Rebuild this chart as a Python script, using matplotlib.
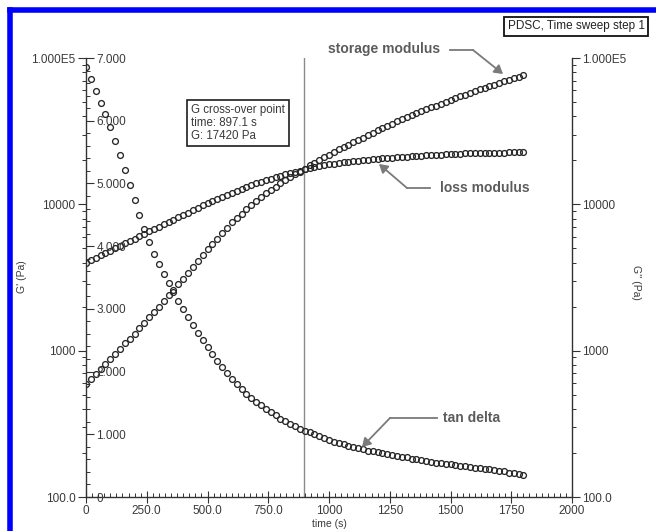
import numpy as np
import matplotlib
matplotlib.use("Agg")
import matplotlib.pyplot as plt
from matplotlib.ticker import FixedLocator, FixedFormatter, MultipleLocator, LogLocator, NullFormatter
from matplotlib.lines import Line2D
from matplotlib.patches import FancyArrowPatch

plt.rcParams['font.family'] = ['Liberation Sans', 'DejaVu Sans']

# Time sweep, one reading every 20 s
time_s = np.arange(0, 1801, 20)

storage_modulus = [
    594, 643, 695, 753, 815, 881,
    953, 1030, 1120, 1210, 1310,
    1420, 1550, 1690, 1840, 2000,
    2180, 2390, 2610, 2850, 3110,
    3410, 3740, 4090, 4490, 4920,
    5360, 5830, 6350, 6920, 7530,
    8070, 8650, 9270, 9930, 10600,
    11200, 11900, 12500, 13200, 13900,
    14600, 15300, 16100, 16700, 17500,
    18500, 19200, 20100, 20900, 21900,
    22800, 23700, 24500, 25500, 26500,
    27600, 28600, 29800, 30900, 32100,
    33300, 34400, 35600, 36900, 38200,
    39400, 40700, 42000, 43400, 44800,
    46000, 47300, 48800, 50100, 51500,
    53000, 54600, 56100, 57800, 59400,
    61000, 62500, 64100, 65800, 67500,
    69200, 71000, 72800, 74600, 76600,
]

loss_modulus = [
    4000, 4150, 4320, 4480, 4660, 4830,
    5010, 5210, 5410, 5620, 5830,
    6050, 6300, 6530, 6790, 7050,
    7310, 7590, 7870, 8170, 8470,
    8790, 9120, 9460, 9820, 10200,
    10500, 10900, 11200, 11600, 12000,
    12400, 12700, 13100, 13500, 13900,
    14300, 14600, 15000, 15300, 15700,
    16000, 16400, 16700, 17000, 17400,
    17700, 17900, 18200, 18500, 18800,
    19000, 19100, 19400, 19500, 19700,
    19900, 20000, 20200, 20300, 20500,
    20600, 20700, 20800, 20900, 21000,
    21100, 21300, 21400, 21500, 21600,
    21700, 21800, 21900, 22000, 22100,
    22200, 22200, 22300, 22400, 22400,
    22500, 22500, 22500, 22600, 22600,
    22600, 22700, 22700, 22700, 22800,
]

tan_delta = [
    6.85, 6.67, 6.48, 6.29, 6.10, 5.90,
    5.68, 5.45, 5.21, 4.97, 4.73,
    4.50, 4.28, 4.07, 3.88, 3.72,
    3.56, 3.41, 3.27, 3.13, 3.00,
    2.87, 2.74, 2.62, 2.50, 2.39,
    2.28, 2.17, 2.07, 1.97, 1.88,
    1.80, 1.72, 1.65, 1.58, 1.52,
    1.46, 1.40, 1.35, 1.30, 1.25,
    1.21, 1.17, 1.13, 1.09, 1.06,
    1.03, 1.00, 0.97, 0.94, 0.91,
    0.88, 0.86, 0.84, 0.82, 0.80,
    0.78, 0.76, 0.74, 0.73, 0.71,
    0.70, 0.68, 0.67, 0.65, 0.64,
    0.63, 0.61, 0.60, 0.59, 0.57,
    0.56, 0.55, 0.54, 0.53, 0.52,
    0.51, 0.50, 0.49, 0.48, 0.47,
    0.46, 0.45, 0.44, 0.43, 0.42,
    0.41, 0.39, 0.38, 0.36, 0.35,
]

crossover_time = 897.1
crossover_G = 17420

x_ticks = [0, 250, 500, 750, 1000, 1250, 1500, 1750, 2000]
x_labels = ['0', '250.0', '500.0', '750.0', '1000', '1250', '1500', '1750', '2000']
mod_ticks = [100, 1000, 10000, 100000]
mod_labels = ['100.0', '1000', '10000', '1.000E5']
tan_ticks = [0, 1, 2, 3, 4, 5, 6, 7]
tan_labels = ['0', '1.000', '2.000', '3.000', '4.000', '5.000', '6.000', '7.000']

W, H = 656, 531
fig = plt.figure(figsize=(W / 100, H / 100), dpi=100)
fig.patch.set_facecolor('white')


def fpos(x, y):
    """pixel position -> figure fraction"""
    return (x / W, 1 - y / H)


L, R, B, T = 86, 572, 497, 58
ax = fig.add_axes([L / W, 1 - B / H, (R - L) / W, (B - T) / H])
ax_r = ax.twinx()
ax_t = ax.twinx()

txt_col = '#3a3a3a'
spine_col = '#333333'
tick_fs = 8.5
mk = dict(linestyle='none', marker='o', mfc='none', mec='#262626', ms=4.2, mew=0.95)

ax.plot(time_s, storage_modulus, **mk)
ax_r.plot(time_s, loss_modulus, **mk)
ax_t.plot(time_s, tan_delta, **mk)
ax.axvline(crossover_time, color='#8a8a8a', lw=1.0, zorder=0)

# G' axis (left, log)
ax.set_xlim(0, 2000)
ax.set_yscale('log')
ax.set_ylim(100, 1e5)
ax.yaxis.set_major_locator(FixedLocator(mod_ticks))
ax.yaxis.set_major_formatter(FixedFormatter(mod_labels))
ax.yaxis.set_minor_locator(LogLocator(base=10, subs=np.arange(2, 10)))
ax.yaxis.set_minor_formatter(NullFormatter())
ax.xaxis.set_major_locator(FixedLocator(x_ticks))
ax.xaxis.set_major_formatter(FixedFormatter(x_labels))
ax.xaxis.set_minor_locator(MultipleLocator(25))
ax.tick_params(axis='y', which='major', direction='out', length=6, width=0.8,
               colors=spine_col, labelcolor=txt_col, labelsize=tick_fs, pad=1.5)
ax.tick_params(axis='y', which='minor', direction='out', length=3, width=0.7, colors=spine_col)
ax.tick_params(axis='x', which='major', direction='inout', length=8, width=0.8,
               colors=spine_col, labelcolor=txt_col, labelsize=tick_fs, pad=2)
ax.tick_params(axis='x', which='minor', direction='in', length=3, width=0.7, colors=spine_col)
for s in ('top', 'right'):
    ax.spines[s].set_visible(False)
for s in ('left', 'bottom'):
    ax.spines[s].set_color(spine_col)
    ax.spines[s].set_linewidth(1.0)

# G'' axis (right, log)
ax_r.set_yscale('log')
ax_r.set_ylim(100, 1e5)
ax_r.yaxis.set_major_locator(FixedLocator(mod_ticks))
ax_r.yaxis.set_major_formatter(FixedFormatter(mod_labels))
ax_r.yaxis.set_minor_locator(LogLocator(base=10, subs=np.arange(2, 10)))
ax_r.yaxis.set_minor_formatter(NullFormatter())
ax_r.tick_params(axis='y', which='major', direction='out', length=6, width=0.8,
                 colors=spine_col, labelcolor=txt_col, labelsize=tick_fs, pad=1.5)
ax_r.tick_params(axis='y', which='minor', direction='out', length=3, width=0.7, colors=spine_col)
for s in ('top', 'left', 'bottom'):
    ax_r.spines[s].set_visible(False)
ax_r.spines['right'].set_color(spine_col)
ax_r.spines['right'].set_linewidth(1.0)

# tan delta axis, drawn inside along the left spine
ax_t.set_ylim(0, 7)
ax_t.spines['right'].set_position(('axes', 0.0))
for s in ('top', 'left', 'bottom', 'right'):
    ax_t.spines[s].set_visible(False)
ax_t.yaxis.set_ticks_position('right')
ax_t.yaxis.set_major_locator(FixedLocator(tan_ticks))
ax_t.yaxis.set_major_formatter(FixedFormatter(tan_labels))
ax_t.yaxis.set_minor_locator(MultipleLocator(0.2))
ax_t.tick_params(axis='y', which='major', direction='out', length=6, width=0.8,
                 colors=spine_col, labelcolor=txt_col, labelsize=tick_fs, pad=1.5)
ax_t.tick_params(axis='y', which='minor', direction='out', length=3, width=0.7, colors=spine_col)

# axis titles
fig.text(*fpos(329, 524), 'time (s)', ha='center', va='center', fontsize=7.5, color=txt_col)
fig.text(*fpos(22, 277), "G' (Pa)", ha='center', va='center', rotation=90, fontsize=7.5, color=txt_col)
fig.text(*fpos(636, 282), "G'' (Pa)", ha='center', va='center', rotation=270, fontsize=7.5, color=txt_col)

# cross-over note
fig.text(*fpos(191, 104), "G cross-over point\ntime: {:.1f} s\nG: {} Pa".format(crossover_time, crossover_G),
         ha='left', va='top', fontsize=8.3, color=txt_col, linespacing=1.1,
         bbox=dict(boxstyle='square,pad=0.35', fc='white', ec='#1e1e1e', lw=1.2))

# run title
fig.text(*fpos(576, 26.5), 'PDSC, Time sweep step 1', ha='center', va='center',
         fontsize=8.5, color='#222222',
         bbox=dict(boxstyle='square,pad=0.3', fc='white', ec='#111111', lw=1.3))

# curve callouts
lab_col = '#5c5c5c'
arr_col = '#7a7a7a'


def callout(text, text_xy, seg_start, elbow, tip):
    fig.text(*fpos(*text_xy), text, ha='center', va='center', fontsize=10,
             fontweight='bold', color=lab_col)
    fig.add_artist(Line2D([seg_start[0] / W, elbow[0] / W],
                          [1 - seg_start[1] / H, 1 - elbow[1] / H],
                          transform=fig.transFigure, color=arr_col, lw=1.3))
    fig.add_artist(FancyArrowPatch(
        fpos(*elbow), fpos(*tip), transform=fig.transFigure,
        arrowstyle='-|>,head_length=5,head_width=3', color=arr_col, lw=1.3,
        shrinkA=0, shrinkB=0))


callout('storage modulus', (384, 49), (450, 50), (473, 50), (503, 74))
callout('loss modulus', (485, 188), (430, 188), (407, 188), (379, 164))
callout('tan delta', (472, 418), (437, 418), (390, 418), (362, 447))

# blue frame edge
fig.add_artist(Line2D([10 / W, 1.01], [1 - 10 / H, 1 - 10 / H], transform=fig.transFigure,
                      color='#0000ff', lw=4.0, solid_capstyle='projecting'))
fig.add_artist(Line2D([10 / W, 10 / W], [1 - 10 / H, -0.01], transform=fig.transFigure,
                      color='#0000ff', lw=4.0, solid_capstyle='projecting'))

fig.savefig('out.png', dpi=100, facecolor='white')
